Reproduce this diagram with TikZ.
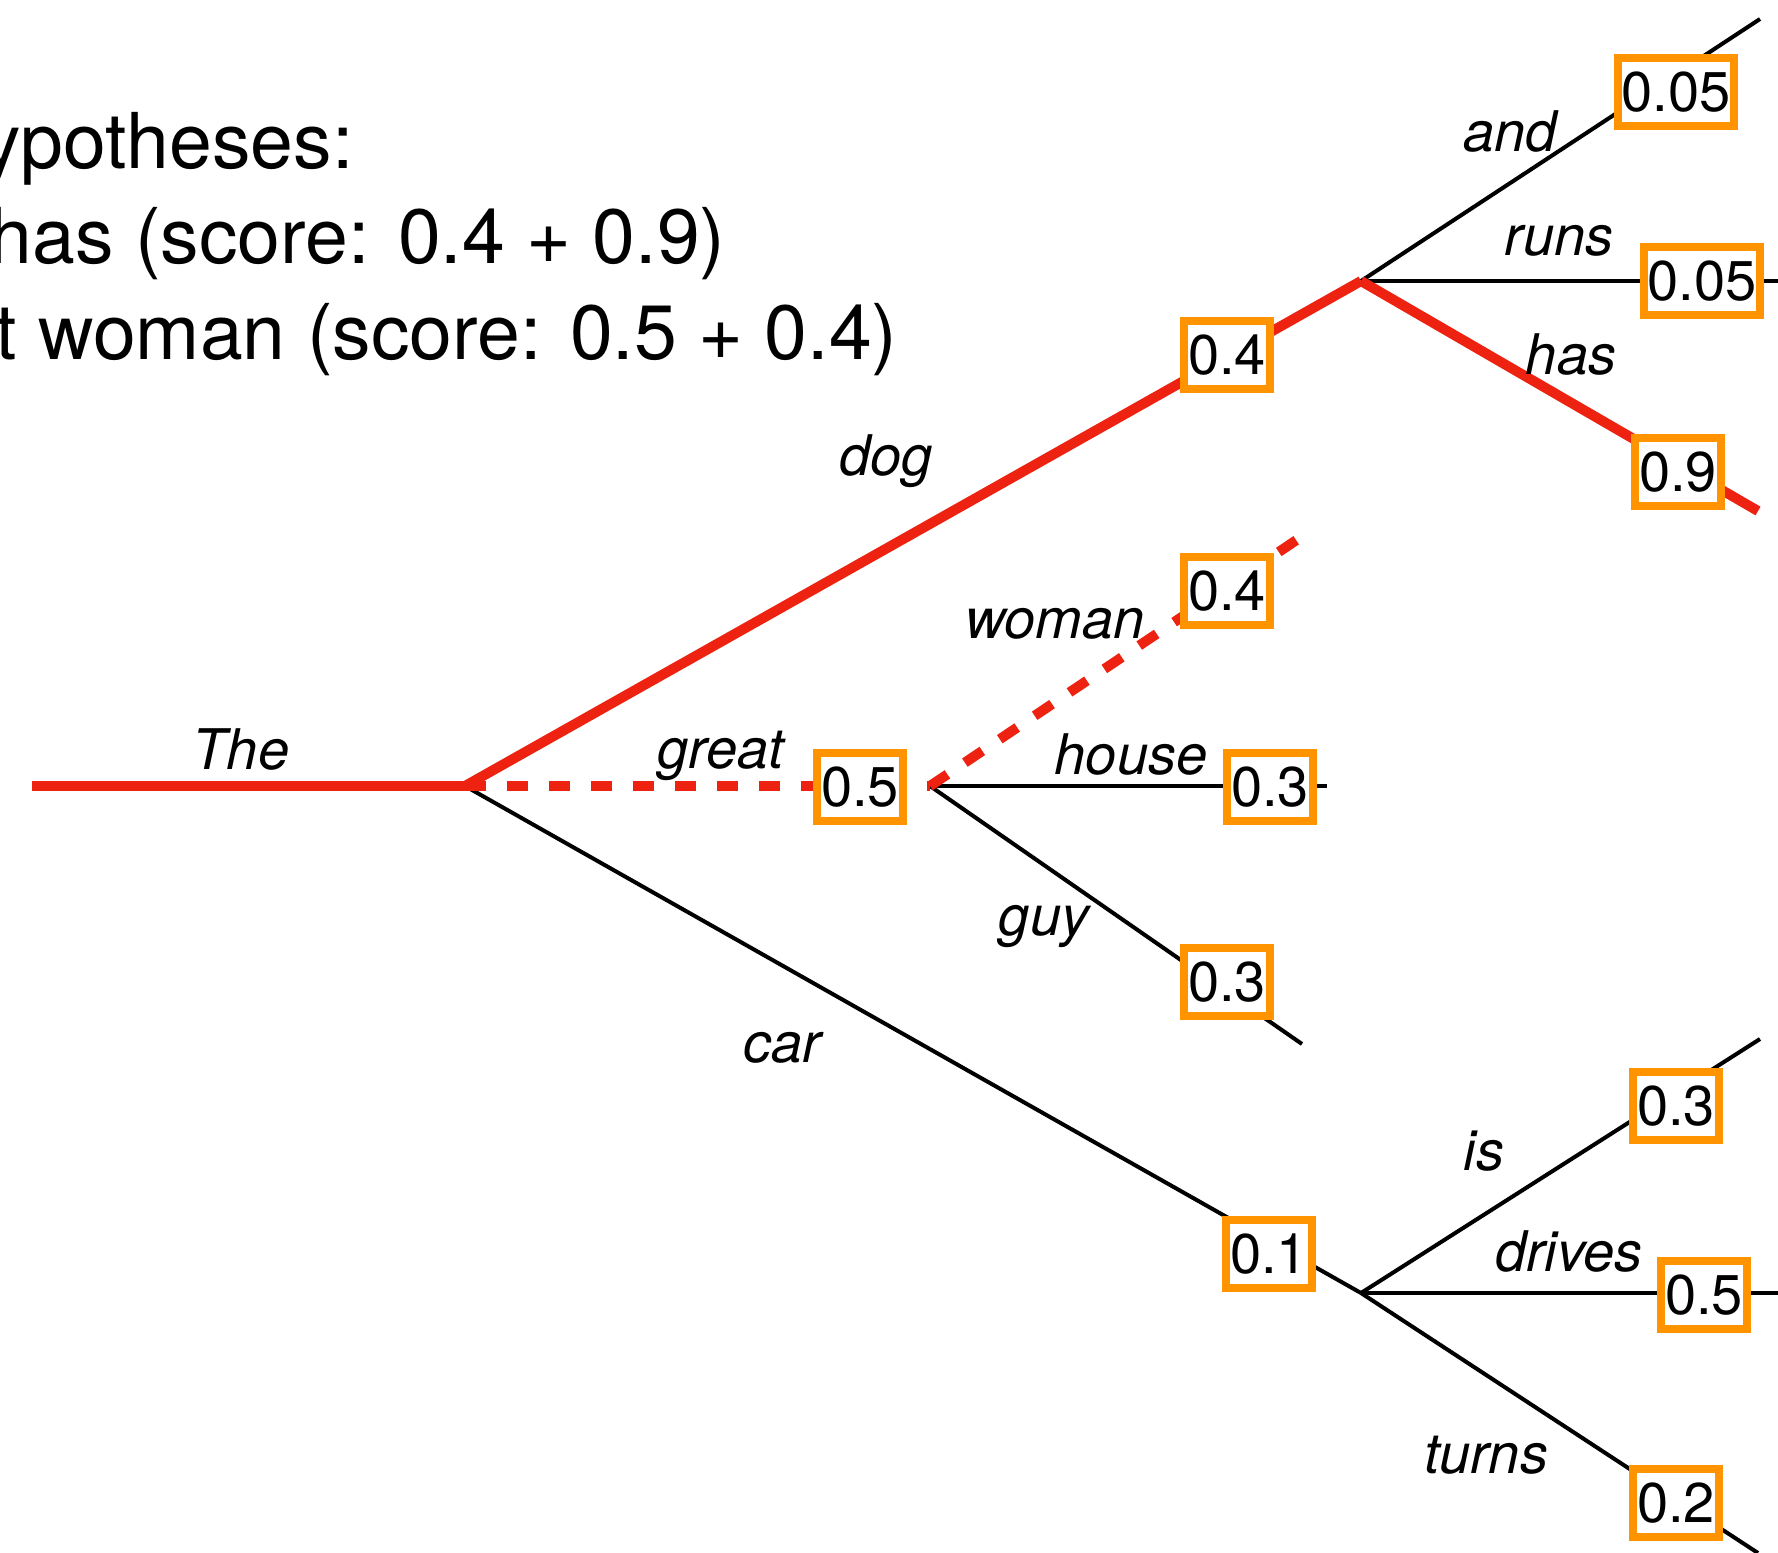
\documentclass[tikz,border=0pt]{standalone}
\usepackage{fontspec}
\setmainfont{TeX Gyre Heros}
\definecolor{beamred}{RGB}{238,34,17}
\definecolor{scoreorange}{RGB}{255,147,0}
\begin{document}
\begin{tikzpicture}[x=0.5pt,y=-0.5pt,
  edge/.style={line width=2pt, black},
  best/.style={line width=5pt, beamred},
  second/.style={line width=5pt, beamred, dash pattern=on 10.5pt off 10.5pt},
  score/.style={draw=scoreorange, line width=4pt, fill=white, inner xsep=1.8pt,
    inner ysep=0pt, minimum height=34pt, font=\fontsize{28}{32}\selectfont},
  word/.style={anchor=base, inner sep=0pt, font=\fontsize{28}{32}\selectfont\itshape},
  header/.style={anchor=base east, inner sep=0pt, font=\fontsize{38.5}{44}\selectfont}]
\useasboundingbox (0,0) rectangle (1778,1553);

% branch points and free ends
\coordinate (start) at (32,786);
\coordinate (A) at (465,786);
\coordinate (B) at (1361,281);
\coordinate (C) at (930,786);
\coordinate (D) at (1361,1293);
\coordinate (eAnd) at (1760,19);
\coordinate (eRuns) at (1778,281);
\coordinate (eHas) at (1758,511);
\coordinate (eWoman) at (1304,535);
\coordinate (eHouse) at (1327,786);
\coordinate (eGuy) at (1302,1044);
\coordinate (eIs) at (1760,1039);
\coordinate (eDrives) at (1778,1293);
\coordinate (eTurns) at (1758,1553);

% hypotheses list, running off the left edge
\node[header] (h1) at (354,168) {ypotheses:};
\node[header] (h2) at (726,263) {has (score: 0.4 + 0.9)};
\node[header] (h3) at (898,359) {t woman (score: 0.5 + 0.4)};

% plain branches
\draw[edge] (A) -- (D);
\draw[edge] (C) -- (eHouse);
\draw[edge] (C) -- (eGuy);
\draw[edge] (B) -- (eAnd);
\draw[edge] (B) -- (eRuns);
\draw[edge] (D) -- (eIs);
\draw[edge] (D) -- (eDrives);
\draw[edge] (D) -- (eTurns);

% best and second-best paths
\draw[second] (A) -- (C);
\draw[second] (C) -- (eWoman);
\draw[best] (start) -- (A);
\draw[best] (A) -- (B);
\draw[best] (B) -- (eHas);

% word scores
\node[score] (sDog) at (1227,355) {0.4};
\node[score] (sGreat) at (860,787) {0.5};
\node[score] (sCar) at (1269,1254) {0.1};
\node[score] (sWoman) at (1227,591) {0.4};
\node[score] (sHouse) at (1270,787) {0.3};
\node[score] (sGuy) at (1227,982) {0.3};
\node[score] (sAnd) at (1676,92) {0.05};
\node[score] (sRuns) at (1702,281) {0.05};
\node[score] (sHas) at (1678,472) {0.9};
\node[score] (sIs) at (1676,1106) {0.3};
\node[score] (sDrives) at (1704,1295) {0.5};
\node[score] (sTurns) at (1676,1503) {0.2};

% words
\node[word] (wThe) at (241,769) {The};
\node[word] (wGreat) at (721,768) {great};
\node[word] (wDog) at (886,475) {dog};
\node[word] (wCar) at (782,1062) {car};
\node[word] (wWoman) at (1055,638) {woman};
\node[word] (wHouse) at (1131,774) {house};
\node[word] (wGuy) at (1044,935) {guy};
\node[word] (wAnd) at (1510,151) {and};
\node[word] (wRuns) at (1559,255) {runs};
\node[word] (wHas) at (1571,374) {has};
\node[word] (wIs) at (1484,1170) {is};
\node[word] (wDrives) at (1569,1271) {drives};
\node[word] (wTurns) at (1486,1473) {turns};
\end{tikzpicture}
\end{document}
